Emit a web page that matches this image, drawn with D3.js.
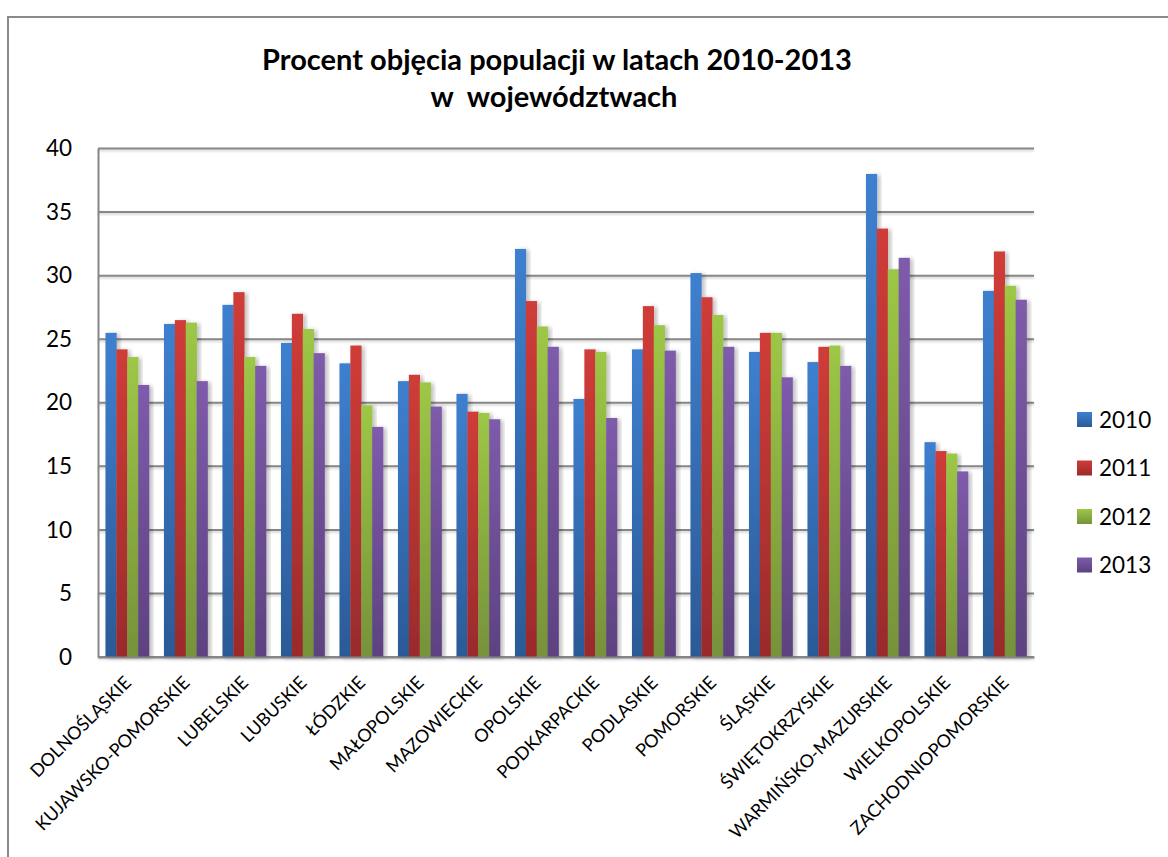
<!DOCTYPE html>
<html>
<head>
<meta charset="utf-8">
<script src="https://cdn.jsdelivr.net/npm/d3@7"></script>
<style>
  body { margin: 0; background: #fff; }
  svg { display: block; font-family: Lato, "Open Sans", sans-serif; }
</style>
</head>
<body>
<div id="chart"></div>
<script>
// data
var categories = ["DOLNOŚLĄSKIE", "KUJAWSKO-POMORSKIE", "LUBELSKIE", "LUBUSKIE", "ŁÓDZKIE",
  "MAŁOPOLSKIE", "MAZOWIECKIE", "OPOLSKIE", "PODKARPACKIE", "PODLASKIE", "POMORSKIE",
  "ŚLĄSKIE", "ŚWIĘTOKRZYSKIE", "WARMIŃSKO-MAZURSKIE", "WIELKOPOLSKIE", "ZACHODNIOPOMORSKIE"];
var years = ["2010", "2011", "2012", "2013"];
var values2010 = [25.5, 26.2, 27.7, 24.7, 23.1, 21.7, 20.7, 32.1, 20.3, 24.2, 30.2, 24.0, 23.2, 38.0, 16.9, 28.8];
var values2011 = [24.2, 26.5, 28.7, 27.0, 24.5, 22.2, 19.3, 28.0, 24.2, 27.6, 28.3, 25.5, 24.4, 33.7, 16.2, 31.9];
var values2012 = [23.6, 26.3, 23.6, 25.8, 19.8, 21.6, 19.2, 26.0, 24.0, 26.1, 26.9, 25.5, 24.5, 30.5, 16.0, 29.2];
var values2013 = [21.4, 21.7, 22.9, 23.9, 18.1, 19.7, 18.7, 24.4, 18.8, 24.1, 24.4, 22.0, 22.9, 31.4, 14.6, 28.1];
var yTicks = [0, 5, 10, 15, 20, 25, 30, 35, 40];

var seriesValues = [values2010, values2011, values2012, values2013];
var topColors = ["#3e80d0", "#d03c38", "#9dc746", "#7e5bab"];
var bottomColors = ["#2b5a96", "#9a2b2c", "#76923a", "#5d4280"];

var svgWidth = 1168;
var svgHeight = 857;

var margin = { top: 148.5, left: 98, right: 134, bottom: 200 };
var width = svgWidth - margin.left - margin.right;
var height = 657 - margin.top;

var svg = d3.select("#chart")
  .append("svg")
  .attr("width", svgWidth)
  .attr("height", svgHeight);

var defs = svg.append("defs");

years.forEach(function(y, i) {
  var g = defs.append("linearGradient")
    .attr("id", "grad" + y)
    .attr("x1", 0).attr("y1", 0).attr("x2", 0).attr("y2", 1);
  g.append("stop").attr("offset", "0%").attr("stop-color", topColors[i]);
  g.append("stop").attr("offset", "100%").attr("stop-color", bottomColors[i]);
});

var shadow = defs.append("filter")
  .attr("id", "shadow")
  .attr("x", "-20%").attr("y", "-5%").attr("width", "160%").attr("height", "110%");
shadow.append("feDropShadow")
  .attr("dx", 3).attr("dy", 1)
  .attr("stdDeviation", 2)
  .attr("flood-color", "#000")
  .attr("flood-opacity", 0.25);

// horizontal lines have no height, so the filter box is given in user space
var lineShadow = defs.append("filter")
  .attr("id", "lineShadow")
  .attr("filterUnits", "userSpaceOnUse")
  .attr("x", -10).attr("y", -10).attr("width", svgWidth).attr("height", 540);
lineShadow.append("feDropShadow")
  .attr("dx", 0).attr("dy", 1.5)
  .attr("stdDeviation", 1)
  .attr("flood-color", "#000")
  .attr("flood-opacity", 0.2);

// outer frame
svg.append("rect")
  .attr("x", 8).attr("y", 17)
  .attr("width", 1200).attr("height", 900)
  .attr("fill", "#fff")
  .attr("stroke", "#8a8a8a")
  .attr("stroke-width", 2);

// title
var title = svg.append("text")
  .attr("text-anchor", "middle")
  .attr("font-weight", "bold")
  .attr("font-size", 29)
  .attr("fill", "#000")
  .style("white-space", "pre");
title.append("tspan").attr("x", 557).attr("y", 70).text("Procent objęcia populacji w latach 2010-2013");
title.append("tspan").attr("x", 554).attr("y", 107).text("w  województwach");

var chartGroup = svg.append("g")
  .attr("transform", `translate(${margin.left}, ${margin.top})`);

var x0 = d3.scaleBand()
  .domain(categories)
  .range([0, width])
  .paddingInner(0.255)
  .paddingOuter(0.1275);

var x1 = d3.scaleBand()
  .domain(years)
  .range([0, x0.bandwidth()]);

var yScale = d3.scaleLinear()
  .domain([0, 40])
  .range([height, 0]);

// gridlines
chartGroup.append("g")
  .attr("filter", "url(#lineShadow)")
  .selectAll("line")
  .data(yTicks)
  .enter()
  .append("line")
  .attr("x1", 0)
  .attr("x2", width)
  .attr("y1", d => yScale(d))
  .attr("y2", d => yScale(d))
  .attr("stroke", "#868686")
  .attr("stroke-width", 2);

// y axis labels
var leftAxis = d3.axisLeft(yScale).tickValues(yTicks).tickSize(0).tickPadding(26);
var yAxis = chartGroup.append("g").call(leftAxis);
yAxis.select(".domain").attr("stroke", "#868686").attr("stroke-width", 2);
yAxis.selectAll("text")
  .attr("font-family", "Lato, sans-serif")
  .attr("font-size", 22.5)
  .attr("fill", "#000");

// bars
var groups = chartGroup.selectAll(".cat")
  .data(categories)
  .enter()
  .append("g")
  .attr("class", "cat")
  .attr("transform", d => `translate(${x0(d)}, 0)`);

groups.selectAll("rect")
  .data((d, ci) => years.map((y, si) => ({ year: y, value: seriesValues[si][ci] })))
  .enter()
  .append("rect")
  .attr("x", d => x1(d.year))
  .attr("y", d => yScale(d.value))
  .attr("width", x1.bandwidth() + 0.3)
  .attr("height", d => height - yScale(d.value))
  .attr("fill", d => `url(#grad${d.year})`)
  .attr("filter", "url(#shadow)");

// x axis
var bottomAxis = d3.axisBottom(x0).tickSize(0).tickPadding(0);
var xAxis = chartGroup.append("g")
  .attr("transform", `translate(0, ${height})`)
  .call(bottomAxis);
xAxis.select(".domain").attr("stroke", "#868686").attr("stroke-width", 2);
xAxis.selectAll("text")
  .attr("font-family", "Lato, sans-serif")
  .attr("font-size", 18)
  .attr("fill", "#000")
  .attr("text-anchor", "end")
  .attr("dy", 0)
  .attr("y", 0)
  .attr("transform", "translate(5, 27) rotate(-45)");

// legend
var legend = svg.append("g")
  .attr("transform", "translate(1077, 412)");

var legendItems = legend.selectAll("g")
  .data(years)
  .enter()
  .append("g")
  .attr("transform", (d, i) => `translate(0, ${i * 48.5})`);

legendItems.append("rect")
  .attr("width", 15)
  .attr("height", 15)
  .attr("fill", d => `url(#grad${d})`);

legendItems.append("text")
  .attr("x", 22)
  .attr("y", 7.5)
  .attr("dy", "0.36em")
  .attr("font-size", 22.5)
  .attr("fill", "#000")
  .text(d => d);
</script>
</body>
</html>
